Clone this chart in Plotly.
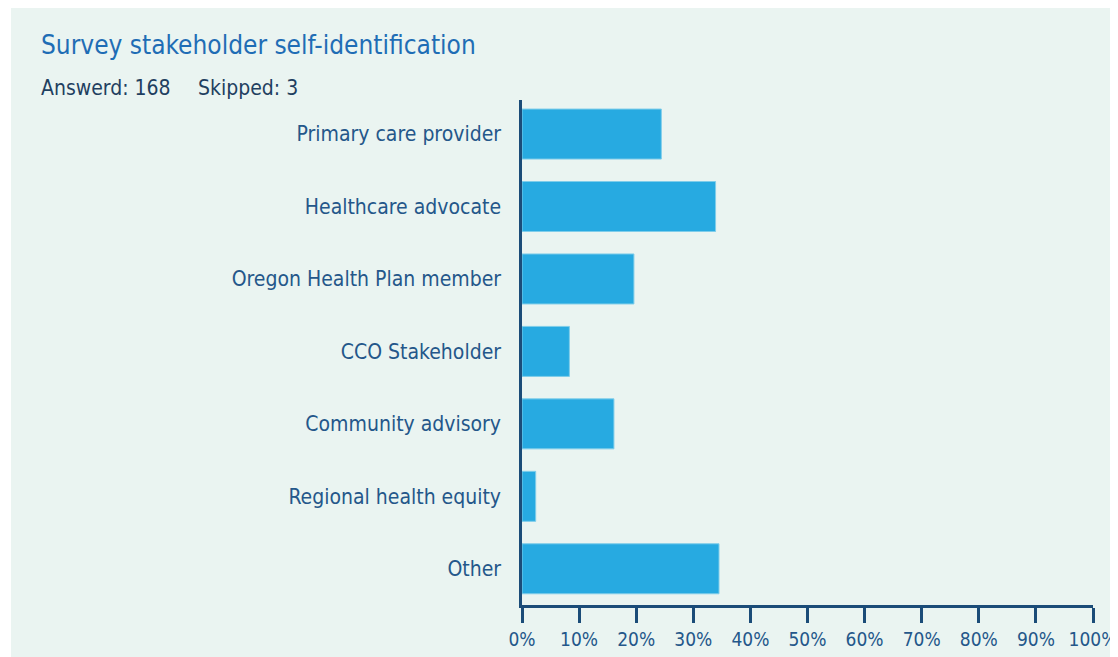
import plotly.graph_objects as go

categories = ["Primary care provider", "Healthcare advocate", "Oregon Health Plan member",
              "CCO Stakeholder", "Community advisory", "Regional health equity", "Other"]
values = [24.4, 33.9, 19.6, 8.3, 16.1, 2.4, 34.5]
x_ticks = list(range(0, 101, 10))
x_tick_labels = [f"{t}%" for t in x_ticks]

OFF = 8  # default page body margin
W, H = 1118 - OFF, 657 - OFF
L, R, T, B = 522 - OFF, 1093 - OFF, 100 - OFF, 605 - OFF
FONT = "DejaVu Sans Condensed, Liberation Sans Narrow, sans-serif"
LABEL_COL = "#24578a"
AXIS_COL = "#1b4c78"

def px(x):
    return (x - OFF - L) / (R - L)

def py(y):
    return (B - (y - OFF)) / (B - T)

fig = go.Figure(go.Bar(
    x=values, y=categories, orientation="h", width=0.69,
    marker=dict(color="#27aae1", line=dict(color="#7fcdea", width=1)),
    hoverinfo="skip",
))

fig.update_layout(
    template="none",
    width=W, height=H,
    margin=dict(l=L, r=W - R, t=T, b=H - B, autoexpand=False),
    paper_bgcolor="white", plot_bgcolor="rgba(0,0,0,0)",
    showlegend=False,
    font=dict(family=FONT, color=LABEL_COL, size=21),
    xaxis=dict(range=[0, 100], tickvals=x_ticks, ticktext=x_tick_labels, automargin=False,
               showgrid=False, zeroline=False, showline=True, linecolor=AXIS_COL, linewidth=2.5,
               ticks="outside", ticklen=15, tickwidth=2.5, tickcolor=AXIS_COL,
               ticklabelstandoff=0, ticklabeloverflow="allow",
               tickfont=dict(family=FONT, size=19, color=LABEL_COL)),
    yaxis=dict(categoryorder="array", categoryarray=categories, range=[6.5, -0.47],
               automargin=False,
               showgrid=False, zeroline=False, showline=True, linecolor=AXIS_COL, linewidth=2.5,
               ticks="", ticklabelstandoff=14,
               tickfont=dict(family=FONT, size=21, color=LABEL_COL)),
    shapes=[dict(type="rect", xref="paper", yref="paper", layer="below",
                 x0=px(11), x1=px(1130), y0=py(670), y1=py(6),
                 fillcolor="#eaf4f1", line=dict(width=0))],
    annotations=[
        dict(text="Survey stakeholder self-identification", xref="paper", yref="paper",
             x=px(39), y=py(45), xanchor="left", yanchor="middle", showarrow=False,
             font=dict(family=FONT, size=26, color="#1f6db5")),
        dict(text="Answerd: 168", xref="paper", yref="paper",
             x=px(39), y=py(88), xanchor="left", yanchor="middle", showarrow=False,
             font=dict(family=FONT, size=21, color="#1f3f60")),
        dict(text="Skipped: 3", xref="paper", yref="paper",
             x=px(196), y=py(88), xanchor="left", yanchor="middle", showarrow=False,
             font=dict(family=FONT, size=21, color="#1f3f60")),
    ],
)

fig.write_html("out.html")
